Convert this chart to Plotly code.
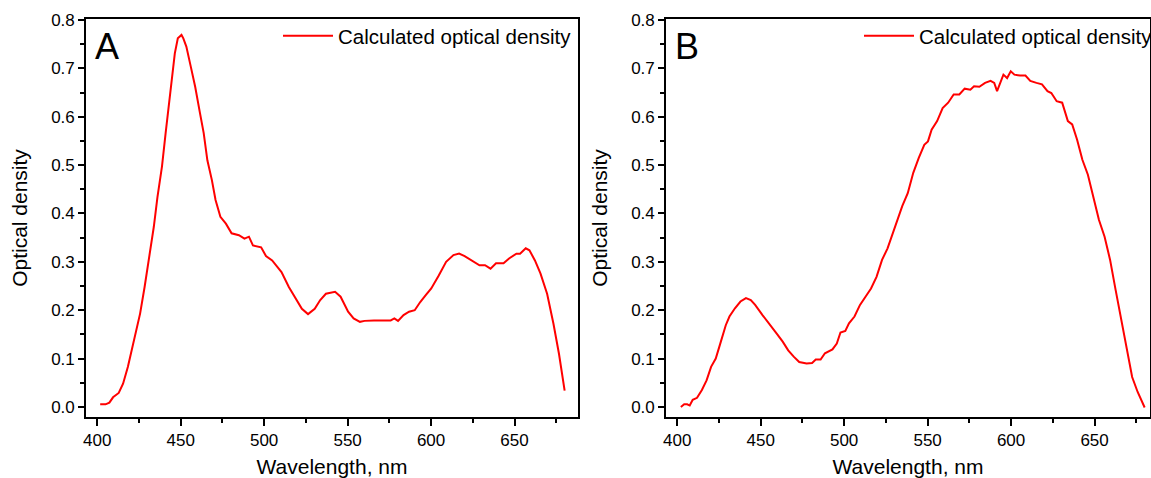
import plotly.graph_objects as go

# Panel A data
wl_a = [401.8, 405, 407.3, 409.5, 412.9, 415.5, 418.4, 420.6, 422.8, 425.7, 428.4, 431.7, 433.9, 436.1,
        438.8, 441, 442.8, 445, 446.5, 448.3, 450.5, 451.6, 453.4, 456.1, 458.7, 461.6, 463.8, 466,
        468.7, 470.9, 473.8, 477.1, 480.5, 484.9, 488.2, 490.9, 493.3, 498.2, 501.1, 504.8, 510.4,
        514.8, 519.2, 522.6, 526.3, 530.3, 533.6, 537, 542.5, 545.8, 550.3, 553.6, 557.4, 560.2,
        565.8, 575.8, 578, 580.2, 583.5, 586.8, 590.2, 593.5, 596.8, 600.1, 604.6, 609, 613.4,
        616.8, 620.1, 624.5, 629, 632.3, 635.6, 638.9, 643.4, 646.7, 651.1, 653.3, 656.7, 658.9,
        662.2, 665.5, 669.5, 673.3, 676.6, 680]
od_a = [0.0055, 0.0055, 0.009, 0.02, 0.029, 0.048, 0.083, 0.117, 0.145, 0.193, 0.248, 0.317, 0.372, 0.434,
        0.497, 0.566, 0.621, 0.693, 0.731, 0.762, 0.769, 0.762, 0.745, 0.703, 0.662, 0.607, 0.566, 0.510,
        0.469, 0.428, 0.393, 0.379, 0.359, 0.355, 0.348, 0.352, 0.334, 0.330, 0.312, 0.303, 0.279,
        0.248, 0.221, 0.203, 0.192, 0.203, 0.221, 0.234, 0.238, 0.228, 0.197, 0.183, 0.176, 0.178,
        0.179, 0.179, 0.183, 0.178, 0.190, 0.197, 0.200, 0.217, 0.231, 0.245, 0.272, 0.300, 0.314,
        0.317, 0.312, 0.303, 0.293, 0.293, 0.286, 0.297, 0.297, 0.307, 0.317, 0.317, 0.328, 0.324,
        0.303, 0.276, 0.234, 0.172, 0.110, 0.034]

# Panel B data
wl_b = [402.2, 404.2, 406, 407.5, 409.3, 411.9, 414.8, 417.6, 420.3, 423.1, 425.8, 429.1, 431.3, 434.6,
        437.9, 441.2, 444.1, 446.7, 451.1, 455.5, 459.5, 463.2, 466.5, 469.8, 473.1, 477.5, 480.8,
        483, 485.9, 488.5, 493, 495.6, 497.8, 500.7, 502.9, 506.2, 509.5, 512.8, 516.1, 519.4,
        522.7, 526, 530.4, 534.8, 538.1, 541.4, 544.7, 548, 550.2, 552.4, 555.7, 559, 562.3, 565.6,
        569, 572.2, 575.6, 577.8, 581, 584.4, 587.7, 589.9, 591.6, 593.2, 595.4, 597.6, 599.8, 602,
        605.3, 608.6, 611.5, 615.2, 618.5, 621.8, 624.1, 627.3, 630.6, 634, 636.6, 639.5, 642.7,
        646, 649.3, 652.6, 656, 659.3, 662.6, 665.9, 669.2, 672.5, 675.8, 680]
od_b = [0.0, 0.0055, 0.0055, 0.003, 0.015, 0.019, 0.035, 0.055, 0.083, 0.100, 0.131, 0.169, 0.187, 0.204,
        0.218, 0.225, 0.221, 0.211, 0.190, 0.169, 0.152, 0.135, 0.117, 0.104, 0.093, 0.090, 0.091,
        0.098, 0.098, 0.111, 0.119, 0.131, 0.154, 0.157, 0.173, 0.187, 0.211, 0.228, 0.245, 0.269,
        0.304, 0.328, 0.373, 0.415, 0.442, 0.484, 0.515, 0.542, 0.549, 0.573, 0.591, 0.618, 0.629, 0.646,
        0.646, 0.658, 0.656, 0.663, 0.662, 0.670, 0.674, 0.670, 0.653, 0.667, 0.687, 0.680, 0.694, 0.687,
        0.685, 0.685, 0.674, 0.670, 0.667, 0.653, 0.649, 0.632, 0.629, 0.591, 0.584, 0.553, 0.511,
        0.480, 0.435, 0.387, 0.352, 0.304, 0.242, 0.180, 0.117, 0.062, 0.031, -0.001]

series_name = "Calculated optical density"
panel_labels = ["A", "B"]
x_title = "Wavelength, nm"
y_title = "Optical density"

W, H = 1151, 478
ML, MR, MT, MB = 86, 1, 19, 61
PW = W - ML - MR
PH = H - MT - MB


def px(x):
    return (x - ML) / PW


def py(y):
    return 1 - (y - MT) / PH


FONT = "Liberation Sans, Arial, sans-serif"

fig = go.Figure()
fig.add_trace(go.Scatter(x=wl_a, y=od_a, mode="lines", name=series_name, showlegend=True,
                         line=dict(color="#ff0000", width=2), xaxis="x", yaxis="y", legend="legend"))
fig.add_trace(go.Scatter(x=wl_b, y=od_b, mode="lines", name=series_name, showlegend=True,
                         line=dict(color="#ff0000", width=2), xaxis="x2", yaxis="y2", legend="legend2"))

common_x = dict(range=[393.3, 688], tick0=400, dtick=50, ticks="outside", ticklen=7, tickwidth=1.5,
                tickcolor="black", showline=True, linecolor="black", linewidth=1.6, mirror=True,
                showgrid=False, zeroline=False, automargin=False, tickfont=dict(size=17, color="black"),
                minor=dict(dtick=25, ticks="outside", ticklen=4, tickwidth=1.5, tickcolor="black", showgrid=False),
                title=dict(text=x_title, font=dict(size=21, color="black"), standoff=13))
common_y = dict(range=[-0.0207, 0.802], tick0=0, dtick=0.1, tickformat=".1f", ticks="outside", ticklen=6,
                tickwidth=1.5, tickcolor="black", showline=True, linecolor="black", linewidth=1.6, mirror=True,
                showgrid=False, zeroline=False, automargin=False, tickfont=dict(size=17, color="black"),
                minor=dict(dtick=0.05, ticks="outside", ticklen=4, tickwidth=1.5, tickcolor="black", showgrid=False),
                title=dict(text=y_title, font=dict(size=21, color="black"), standoff=18))

xa = dict(common_x, domain=[0, px(578)], anchor="y")
xb = dict(common_x, domain=[px(666), 1], anchor="y2", range=[393.3, 683.2])
ya = dict(common_y, domain=[0, 1], anchor="x")
yb = dict(common_y, domain=[0, 1], anchor="x2")

fig.update_layout(
    width=W, height=H,
    margin=dict(l=ML, r=MR, t=MT, b=MB, autoexpand=False),
    paper_bgcolor="white", plot_bgcolor="white",
    font=dict(family=FONT, color="black"),
    showlegend=True,
    xaxis=xa, yaxis=ya, xaxis2=xb, yaxis2=yb,
    legend=dict(x=px(577), y=py(36), xanchor="right", yanchor="middle", bgcolor="rgba(0,0,0,0)",
                font=dict(size=20.5, color="black"), itemwidth=50),
    legend2=dict(x=px(1158), y=py(36), xanchor="right", yanchor="middle", bgcolor="rgba(0,0,0,0)",
                 font=dict(size=20.5, color="black"), itemwidth=50),
    annotations=[
        dict(text=panel_labels[0], x=px(93), y=py(46), xref="paper", yref="paper", xanchor="left",
             yanchor="middle", showarrow=False, font=dict(size=36, color="black")),
        dict(text=panel_labels[1], x=px(673), y=py(46), xref="paper", yref="paper", xanchor="left",
             yanchor="middle", showarrow=False, font=dict(size=36, color="black")),
    ],
)

fig.write_html("out.html", config={"displayModeBar": False},
               post_script="document.body.style.margin='0';document.body.style.overflow='hidden';")
